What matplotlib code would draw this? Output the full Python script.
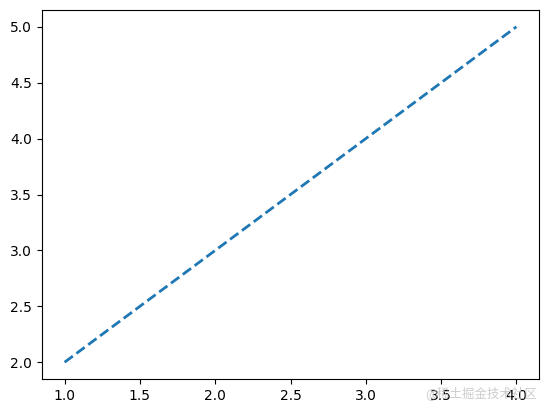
import matplotlib
matplotlib.use("Agg")
import matplotlib.pyplot as plt

plt.rcParams['font.family'] = ['DejaVu Sans']

x = [1, 2, 3, 4]
y = [2, 3, 4, 5]

fig = plt.figure(figsize=(5.47, 4.13), dpi=100)
ax = fig.add_axes([42/547, 34/413, 497/547, 369/413])
ax.plot(x, y, linestyle='--', linewidth=2, color='#1f77b4')

fig.text(0.982, 0.048, '@稀土掘金技术社区', ha='right', va='center', fontsize=9,
         color='#c0c0c0', alpha=0.8,
         family=['Noto Sans CJK SC', 'DejaVu Sans'])

fig.savefig('out.png', dpi=100)
